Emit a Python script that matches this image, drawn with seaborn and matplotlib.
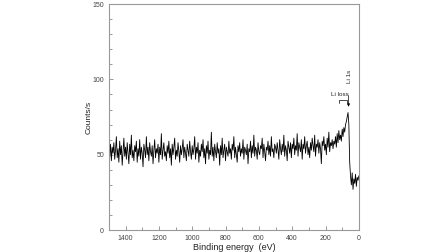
import numpy as np
import matplotlib
matplotlib.use('Agg')
import matplotlib.pyplot as plt
import seaborn as sns
from matplotlib.ticker import MultipleLocator

# Binding energy grid (eV), 1500 -> 0 in 5 eV steps
energy = np.arange(1500, -1, -5)

# Counts, in segments
counts_1500_1000 = [
    60, 49, 57, 46, 55, 51, 58, 47, 53, 62, 48, 54, 45, 59, 50, 56, 43, 52, 61, 49,
    55, 47, 58, 51, 44, 57, 50, 63, 48, 53, 46, 56, 52, 59, 45, 54, 49, 60, 47, 55,
    51, 42, 57, 53, 48, 62, 50, 55, 46, 58, 52, 49, 56, 44, 53, 60, 48, 54, 51, 57,
    45, 55, 50, 64, 47, 53, 58, 49, 52, 46, 56, 51, 59, 48, 54, 43, 57, 50, 55, 61,
    47, 53, 49, 58, 52, 45, 56, 50, 54, 60, 48, 55, 51, 46, 57, 53, 49, 59, 52, 47,
    56]
counts_995_500 = [
    50, 54, 62, 47, 55, 51, 58, 45, 53, 49, 57, 52, 60, 48, 54, 44, 56, 51, 59, 47,
    53, 50, 65, 49, 55, 46, 57, 52, 48, 58, 51, 54, 43, 56, 50, 61, 48, 53, 57, 46,
    55, 52, 49, 59, 51, 54, 47, 57, 53, 62, 48, 55, 50, 45, 56, 52, 58, 49, 54, 51,
    60, 47, 55, 53, 50, 57, 44, 54, 52, 59, 48, 56, 51, 63, 49, 55, 53, 47, 58, 52,
    50, 56, 54, 61, 48, 57, 52, 46, 55, 53, 59, 50, 56, 49, 62, 52, 54, 48, 57, 55]
counts_495_150 = [
    51, 58, 53, 47, 60, 54, 50, 57, 52, 63, 49, 56, 53, 46, 59, 55, 51, 58, 48, 57,
    54, 61, 50, 56, 53, 64, 49, 58, 55, 52, 60, 47, 57, 54, 62, 51, 56, 59, 50, 55,
    48, 58, 53, 61, 56, 52, 63, 49, 57, 55, 60, 51, 58, 54, 44, 59, 56, 62, 53, 57,
    50, 61, 55, 65, 52, 58, 56, 60, 54, 59]
counts_145_65 = [57, 62, 55, 64, 58, 66, 60, 63, 59, 67, 62, 68, 65, 70, 72, 75, 78]
counts_60_0 = [70, 45, 36, 30, 38, 27, 34, 31, 37, 29, 35, 33, 36]

counts = counts_1500_1000 + counts_995_500 + counts_495_150 + counts_145_65 + counts_60_0

sns.set_style('ticks')
plt.rcParams['font.family'] = ['Liberation Sans', 'DejaVu Sans']

fig = plt.figure(figsize=(4.48, 2.52), dpi=100)
ax = fig.add_axes([0.243, 0.087, 0.558, 0.897])

sns.lineplot(x=energy, y=counts, color='black', lw=0.6, ax=ax)

ax.set_xlim(1500, 0)
ax.set_ylim(0, 150)
ax.xaxis.set_major_locator(MultipleLocator(200))
ax.xaxis.set_minor_locator(MultipleLocator(100))
ax.yaxis.set_major_locator(MultipleLocator(50))
ax.yaxis.set_minor_locator(MultipleLocator(10))
ax.tick_params(which='both', direction='in', colors='#888888', labelcolor='#444444',
               labelsize=5, width=0.6)
ax.tick_params(which='major', length=3)
ax.tick_params(which='minor', length=2)
for s in ax.spines.values():
    s.set_color('#999999')
    s.set_linewidth(0.8)

ax.set_xlabel('Binding energy  (eV)', fontsize=6.5, color='#222222', labelpad=1)
ax.set_ylabel('Counts/s', fontsize=6, color='#222222', labelpad=0)

# annotations
ax.text(54, 102, 'Li 1s', rotation=90, fontsize=4.5, ha='center', va='center', color='#222222')
ax.annotate('', xy=(62, 80), xytext=(62, 91),
            arrowprops=dict(arrowstyle='-|>', color='black', lw=0.5, mutation_scale=4))
ax.text(115, 90, 'Li loss', fontsize=4.5, ha='center', va='center', color='#222222')
ax.plot([118, 118, 74, 74], [84, 86, 86, 84], color='black', lw=0.5)

fig.savefig('out.png', dpi=100)
